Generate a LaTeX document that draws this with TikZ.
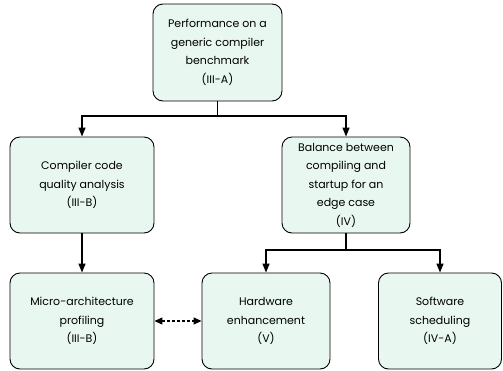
\documentclass[tikz,border=0pt]{standalone}
\usepackage{fontspec}
\setmainfont{Poppins}
\usetikzlibrary{arrows.meta}
\definecolor{boxfill}{HTML}{E8F8F1}
\tikzset{
  box/.style={draw=black, line width=0.9pt, fill=boxfill, rounded corners=10pt,
    align=center, inner sep=2pt,
    font=\fontsize{11}{18.5}\selectfont},
  arr/.style={line width=1.4pt, -{Triangle[length=9pt,width=7pt]}},
  plain/.style={line width=1.4pt},
  darr/.style={line width=1.2pt, dash pattern=on 3pt off 2pt,
    {Triangle[length=8pt,width=7pt]}-{Triangle[length=8pt,width=7pt]}}
}
\begin{document}
\begin{tikzpicture}[x=1pt,y=-1pt]
\useasboundingbox (0,0) rectangle (503,370);
\node[box, minimum width=129pt, minimum height=97pt] (top) at (217.5,52.5)
  {Performance on a\\generic compiler\\benchmark\\(III-A)};
\node[box, minimum width=144pt, minimum height=96pt] (ml) at (82,185)
  {Compiler code\\quality analysis\\(III-B)};
\node[box, minimum width=128pt, minimum height=96pt] (mr) at (346,185)
  {Balance between\\compiling and\\startup for an\\edge case\\(IV)};
\node[box, minimum width=144pt, minimum height=96pt] (b1) at (82,321)
  {Micro-architecture\\profiling\\(III-B)};
\node[box, minimum width=128pt, minimum height=96pt] (b2) at (266,321)
  {Hardware\\enhancement\\(V)};
\node[box, minimum width=123pt, minimum height=96pt] (b3) at (440,321)
  {Software\\scheduling\\(IV-A)};
\coordinate (j1) at (217.5,116);
\coordinate (j2) at (346,250);
\draw[plain] (top.south) -- (j1);
\draw[arr] (j1) -| (ml.north);
\draw[arr] (j1) -| (mr.north);
\draw[arr] (ml.south) -- (b1.north);
\draw[plain] (mr.south) -- (j2);
\draw[arr] (j2) -| (b2.north);
\draw[arr] (j2) -| (b3.north);
\draw[darr] (b1.east) -- (b2.west);
\end{tikzpicture}
\end{document}
